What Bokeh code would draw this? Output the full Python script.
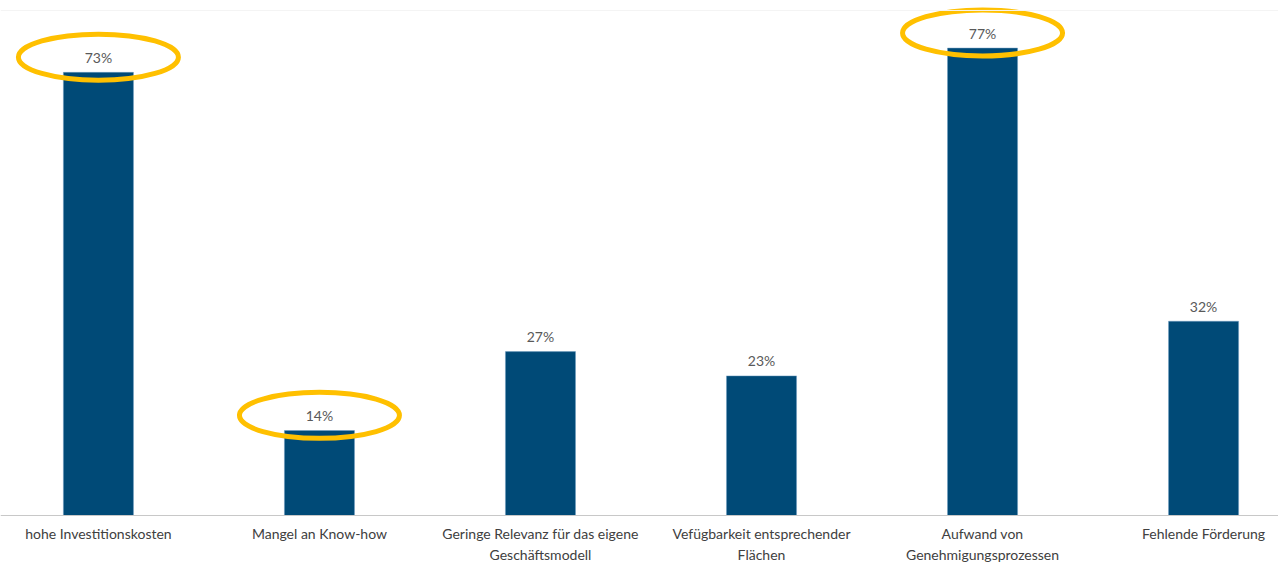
from bokeh.plotting import figure
from bokeh.models import Range1d, Span, ColumnDataSource
from bokeh.core.properties import value
from bokeh.embed import file_html
from bokeh.resources import INLINE

categories = [
    "hohe Investitionskosten",
    "Mangel an Know-how",
    "Geringe Relevanz für das eigene\nGeschäftsmodell",
    "Vefügbarkeit entsprechender\nFlächen",
    "Aufwand von\nGenehmigungsprozessen",
    "Fehlende Förderung",
]
values = [73, 14, 27, 23, 77, 32]
value_labels = ["73%", "14%", "27%", "23%", "77%", "32%"]
highlighted = [0, 1, 4]

BAR_COLOR = "#004A77"
RING_COLOR = "#FFC000"
FONT = "Lato"

xs = list(range(len(categories)))
src = ColumnDataSource(dict(x=xs, top=values, lab=value_labels, cat=categories))

p = figure(width=1278, height=564, output_backend="svg", toolbar_location=None,
           x_range=Range1d(-0.443, 5.339), y_range=Range1d(-8.07, 84.84),
           min_border_left=0, min_border_right=0, min_border_top=0, min_border_bottom=0)
p.axis.visible = False
p.grid.visible = False
p.outline_line_color = None
p.background_fill_color = "white"

p.vbar(x="x", top="top", bottom=0, width=0.317, source=src,
       fill_color=BAR_COLOR, line_color="#6F9CC0", line_width=0.5)

p.add_layout(Span(location=0, dimension="width", line_color="#C8C8C8", line_width=1.2))
p.add_layout(Span(location=83.2, dimension="width", line_color="#F4F4F4", line_width=1))

p.text(x="x", y="top", text="lab", source=src, text_align="center",
       text_baseline="middle", y_offset=-15, text_font=value(FONT),
       text_font_size="14px", text_color="#595959")

p.text(x="x", y=0, text="cat", source=src, text_align="center",
       text_baseline="top", y_offset=9, text_font=value(FONT),
       text_font_size="14px", text_color="#404040", text_line_height=1.24)

hx = [xs[i] for i in highlighted]
hy = [values[i] + 2.5 for i in highlighted]
p.ellipse(x=hx, y=hy, width=160, height=46, width_units="screen", height_units="screen",
          fill_color=None, line_color=RING_COLOR, line_width=5)

open("out.html", "w").write(file_html(p, INLINE))
